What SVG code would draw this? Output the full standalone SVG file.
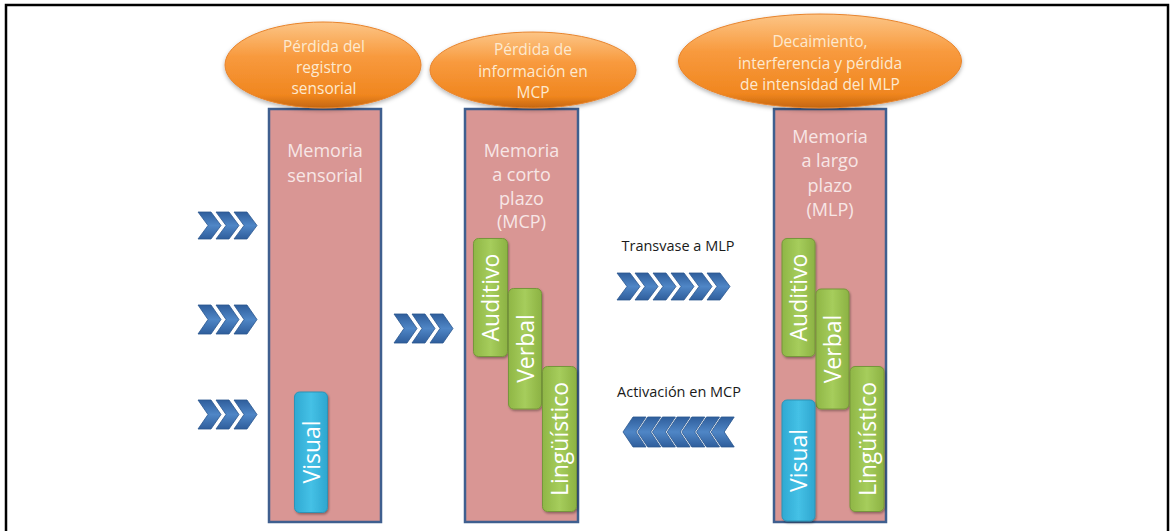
<svg xmlns="http://www.w3.org/2000/svg" xmlns:xlink="http://www.w3.org/1999/xlink" width="1173" height="531" viewBox="0 0 1173 531">
  <defs>
    <style>
      .frame { fill: #ffffff; stroke: #000000; stroke-width: 2.5; }
      .store { fill: #d99694; stroke: #3f5f8f; stroke-width: 2.5; }
      .store-text { font-family: "Open Sans", "Liberation Sans", sans-serif; font-size: 18px; fill: #f7e6e6; text-anchor: middle; }
      .cloud { fill: url(#orangeGrad); stroke: #e8842c; stroke-width: 1; filter: url(#softShadow); }
      .cloud-text { font-family: "Open Sans", "Liberation Sans", sans-serif; font-size: 15.5px; fill: #fde9cf; text-anchor: middle; }
      .green { fill: url(#greenGrad); stroke: #76963a; stroke-width: 1; filter: url(#boxShadow); }
      .blue { fill: url(#blueGrad); stroke: #2d93b6; stroke-width: 1; filter: url(#boxShadow); }
      .tag { font-family: "Open Sans", "Liberation Sans", sans-serif; font-size: 23px; fill: #ffffff; text-anchor: middle; }
      .flow-label { font-family: "Open Sans", "Liberation Sans", sans-serif; font-size: 14.5px; fill: #1a1a1a; text-anchor: middle; }
      .chev { fill: url(#chevGrad); stroke: #2b578f; stroke-width: 0.8; }
    </style>
    <linearGradient id="orangeGrad" x1="0" y1="0" x2="0" y2="1">
      <stop offset="0" stop-color="#fcc586"/>
      <stop offset="0.4" stop-color="#f89a3e"/>
      <stop offset="0.85" stop-color="#f0861f"/>
      <stop offset="1" stop-color="#c4660f"/>
    </linearGradient>
    <linearGradient id="greenGrad" x1="0" y1="0" x2="1" y2="0">
      <stop offset="0" stop-color="#8fb646"/>
      <stop offset="0.5" stop-color="#a6cd5c"/>
      <stop offset="1" stop-color="#8cb243"/>
    </linearGradient>
    <linearGradient id="blueGrad" x1="0" y1="0" x2="1" y2="0">
      <stop offset="0" stop-color="#2fa9d2"/>
      <stop offset="0.5" stop-color="#45c1e6"/>
      <stop offset="1" stop-color="#2ea6cf"/>
    </linearGradient>
    <linearGradient id="chevGrad" x1="0" y1="0" x2="0" y2="1">
      <stop offset="0" stop-color="#2f5e9c"/>
      <stop offset="0.5" stop-color="#4f86c6"/>
      <stop offset="1" stop-color="#2f5e9c"/>
    </linearGradient>
    <filter id="softShadow" x="-10%" y="-10%" width="120%" height="130%">
      <feDropShadow dx="0" dy="2" stdDeviation="2" flood-color="#000000" flood-opacity="0.3"/>
    </filter>
    <filter id="boxShadow" x="-20%" y="-10%" width="150%" height="120%">
      <feDropShadow dx="1" dy="1.5" stdDeviation="1.2" flood-color="#000000" flood-opacity="0.35"/>
    </filter>
    <!-- chevron shapes, 23 wide and 28 high -->
    <path id="chevR" class="chev" d="M0,0 H13 L23,14 L13,28 H0 L10,14 Z"/>
    <path id="chevL" class="chev" d="M0,14 L10,0 H23 L13,14 L23,28 H10 Z"/>
  </defs>

  <rect class="frame" x="6" y="5" width="1162" height="545"/>

  <!-- sensory memory -->
  <g id="memoria-sensorial">
    <rect class="store" x="269" y="109" width="112" height="413"/>
    <text class="store-text" x="325" y="157">Memoria</text>
    <text class="store-text" x="325" y="182">sensorial</text>
  </g>
  <g id="perdida-registro">
    <ellipse class="cloud" cx="323" cy="65" rx="98" ry="43"/>
    <text class="cloud-text" x="324" y="52">Pérdida del</text>
    <text class="cloud-text" x="324" y="73">registro</text>
    <text class="cloud-text" x="324" y="94">sensorial</text>
  </g>
  <g id="visual-sensorial">
    <rect class="blue" x="294.5" y="392" width="33" height="120.5" rx="5"/>
    <text class="tag" transform="translate(319.5,452) rotate(-90)">Visual</text>
  </g>

  <!-- short-term memory -->
  <g id="memoria-corto-plazo">
    <rect class="store" x="465" y="109" width="113" height="413"/>
    <text class="store-text" x="521.5" y="157">Memoria</text>
    <text class="store-text" x="521.5" y="181">a corto</text>
    <text class="store-text" x="521.5" y="204.5">plazo</text>
    <text class="store-text" x="521.5" y="228">(MCP)</text>
  </g>
  <g id="perdida-mcp">
    <ellipse class="cloud" cx="533" cy="70" rx="103" ry="38"/>
    <text class="cloud-text" x="533" y="55">Pérdida de</text>
    <text class="cloud-text" x="533" y="77">información en</text>
    <text class="cloud-text" x="533" y="98">MCP</text>
  </g>
  <g id="mcp-auditivo">
    <rect class="green" x="473.5" y="238.5" width="34" height="118" rx="5"/>
    <text class="tag" transform="translate(499,297.5) rotate(-90)">Auditivo</text>
  </g>
  <g id="mcp-verbal">
    <rect class="green" x="508.5" y="288.5" width="33" height="120.5" rx="5"/>
    <text class="tag" transform="translate(533.5,348.5) rotate(-90)">Verbal</text>
  </g>
  <g id="mcp-linguistico">
    <rect class="green" x="542.5" y="366.5" width="34" height="145" rx="5"/>
    <text class="tag" transform="translate(568,439) rotate(-90)">Lingüístico</text>
  </g>

  <!-- long-term memory -->
  <g id="memoria-largo-plazo">
    <rect class="store" x="774" y="109" width="112" height="413"/>
    <text class="store-text" x="830" y="143">Memoria</text>
    <text class="store-text" x="830" y="167">a largo</text>
    <text class="store-text" x="830" y="191.5">plazo</text>
    <text class="store-text" x="830" y="216">(MLP)</text>
  </g>
  <g id="decaimiento-mlp">
    <ellipse class="cloud" cx="820" cy="61" rx="141.5" ry="47"/>
    <text class="cloud-text" x="820" y="47">Decaimiento,</text>
    <text class="cloud-text" x="820" y="69">interferencia y pérdida</text>
    <text class="cloud-text" x="820" y="90">de intensidad del MLP</text>
  </g>
  <g id="mlp-auditivo">
    <rect class="green" x="782" y="238.5" width="33" height="118" rx="5"/>
    <text class="tag" transform="translate(807,297.5) rotate(-90)">Auditivo</text>
  </g>
  <g id="mlp-verbal">
    <rect class="green" x="816" y="289" width="33" height="120" rx="5"/>
    <text class="tag" transform="translate(841,349) rotate(-90)">Verbal</text>
  </g>
  <g id="mlp-linguistico">
    <rect class="green" x="850" y="366.5" width="34" height="145" rx="5"/>
    <text class="tag" transform="translate(875.5,439) rotate(-90)">Lingüístico</text>
  </g>
  <g id="mlp-visual">
    <rect class="blue" x="782" y="400" width="33" height="121" rx="5"/>
    <text class="tag" transform="translate(807,460.5) rotate(-90)">Visual</text>
  </g>

  <!-- flow arrows between stores -->
  <g id="connectors">
    <g id="entrada-1">
      <use xlink:href="#chevR" transform="translate(198,212) scale(1,0.964)"/>
      <use xlink:href="#chevR" transform="translate(216,212) scale(1,0.964)"/>
      <use xlink:href="#chevR" transform="translate(234,212) scale(1,0.964)"/>
    </g>
    <g id="entrada-2">
      <use xlink:href="#chevR" transform="translate(198,305) scale(1,1.036)"/>
      <use xlink:href="#chevR" transform="translate(216,305) scale(1,1.036)"/>
      <use xlink:href="#chevR" transform="translate(234,305) scale(1,1.036)"/>
    </g>
    <g id="entrada-3">
      <use xlink:href="#chevR" transform="translate(198,400) scale(1,1.036)"/>
      <use xlink:href="#chevR" transform="translate(216,400) scale(1,1.036)"/>
      <use xlink:href="#chevR" transform="translate(234,400) scale(1,1.036)"/>
    </g>
    <g id="sensorial-a-mcp">
      <use xlink:href="#chevR" transform="translate(394,314) scale(1,1.036)"/>
      <use xlink:href="#chevR" transform="translate(412,314) scale(1,1.036)"/>
      <use xlink:href="#chevR" transform="translate(430,314) scale(1,1.036)"/>
    </g>
    <g id="transvase">
      <text class="flow-label" x="678" y="251">Transvase a MLP</text>
      <use xlink:href="#chevR" transform="translate(617,273) scale(1,0.964)"/>
      <use xlink:href="#chevR" transform="translate(635,273) scale(1,0.964)"/>
      <use xlink:href="#chevR" transform="translate(653,273) scale(1,0.964)"/>
      <use xlink:href="#chevR" transform="translate(671,273) scale(1,0.964)"/>
      <use xlink:href="#chevR" transform="translate(689,273) scale(1,0.964)"/>
      <use xlink:href="#chevR" transform="translate(707,273) scale(1,0.964)"/>
    </g>
    <g id="activacion">
      <text class="flow-label" x="679" y="397">Activación en MCP</text>
      <use xlink:href="#chevL" transform="translate(623,417) scale(1,1.07)"/>
      <use xlink:href="#chevL" transform="translate(637.7,417) scale(1,1.07)"/>
      <use xlink:href="#chevL" transform="translate(652.4,417) scale(1,1.07)"/>
      <use xlink:href="#chevL" transform="translate(667.1,417) scale(1,1.07)"/>
      <use xlink:href="#chevL" transform="translate(681.8,417) scale(1,1.07)"/>
      <use xlink:href="#chevL" transform="translate(696.5,417) scale(1,1.07)"/>
      <use xlink:href="#chevL" transform="translate(711.2,417) scale(1,1.07)"/>
    </g>
  </g>
</svg>
